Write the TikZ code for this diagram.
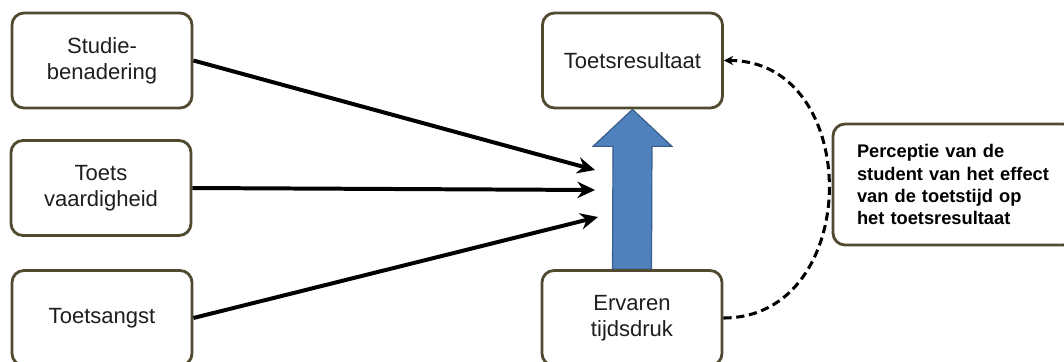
\documentclass[tikz,border=0pt]{standalone}
\usepackage{fontspec}
\setmainfont{Liberation Sans}
\usepackage{tikz}
\usetikzlibrary{arrows.meta, calc, backgrounds}
\definecolor{boxedge}{RGB}{80,74,48}
\definecolor{pressblue}{RGB}{79,129,189}
\definecolor{pressbluedark}{RGB}{56,93,138}
\definecolor{textgray}{RGB}{30,30,30}
\tikzset{
  factor/.style={rectangle, rounded corners=0.36cm, draw=boxedge, line width=2.4pt,
                 fill=white, minimum width=5.4cm, minimum height=2.85cm,
                 align=center, text=textgray, font=\fontsize{18.8}{22.4}\selectfont},
  note/.style={rectangle, rounded corners=0.36cm, draw=boxedge, line width=2.4pt,
               fill=white, text width=5.82cm, inner xsep=0.72cm,
               minimum height=3.63cm, align=left,
               font=\fontsize{15.6}{18.8}\selectfont\bfseries},
  arr/.style={-{Stealth[length=15pt, width=14pt]}, line width=3.4pt},
  dasharr/.style={-{Stealth[length=8pt, width=8pt]}, line width=2.6pt,
                  dash pattern=on 7pt off 4pt},
}
\begin{document}
\begin{tikzpicture}[x=0.03cm, y=-0.03cm]
  \useasboundingbox (0,0) rectangle (1064,361);

  \node[factor] (studie) at (102,60.5) {Studie-\\benadering};
  \node[factor] (vaard)  at (101,188)  {Toets\\vaardigheid};
  \node[factor] (angst)  at (102,318)  {Toetsangst};
  \node[factor] (result) at (632.5,60.5) {Toetsresultaat};
  \node[factor] (tijd)   at (632,318)  {Ervaren\\tijdsdruk};
  \node[note]   (percep) at (954,184.5)
    {Perceptie van de\\student van het effect\\van de toetstijd op\\het toetsresultaat};

  % thick block arrow, behind the boxes
  \begin{scope}[on background layer]
    \filldraw[fill=pressblue, draw=pressbluedark, line width=1pt]
      ($(tijd.north)+(-19.5,0)$) -- ($(result.south)+(-19.5,37)$)
      -- ($(result.south)+(-39.5,37)$) -- (result.south)
      -- ($(result.south)+(39.5,37)$) -- ($(result.south)+(19.5,37)$)
      -- ($(tijd.north)+(19.5,0)$) -- cycle;
  \end{scope}

  \coordinate (hit1) at (595,170);
  \coordinate (hit2) at (595,190);
  \coordinate (hit3) at (598,217);
  \draw[arr] (studie.east) -- (hit1);
  \draw[arr] (vaard.east)  -- (hit2);
  \draw[arr] (angst.east)  -- (hit3);

  \draw[dasharr] (tijd.east) .. controls +(140,0) and +(140,0) .. (result.east);
\end{tikzpicture}
\end{document}
